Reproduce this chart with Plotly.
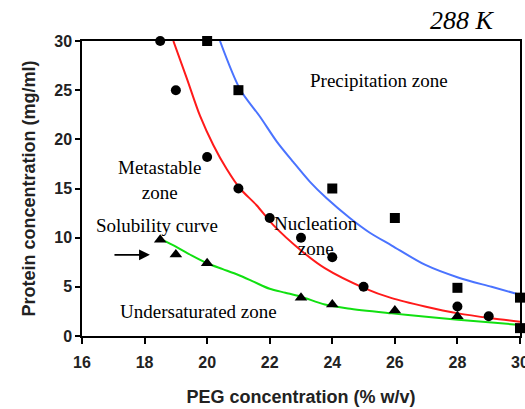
import plotly.graph_objects as go

# Data points
circle_x = [18.5, 19, 20, 21, 22, 23, 24, 25, 28, 29]
circle_y = [30, 25, 18.2, 15, 12, 10, 8, 5, 3.0, 2.0]

square_x = [20, 21, 24, 26, 28, 30, 30]
square_y = [30, 25, 15, 12, 4.9, 3.9, 0.8]

triangle_x = [18.5, 19, 20, 23, 24, 26, 28]
triangle_y = [9.8, 8.3, 7.4, 3.9, 3.2, 2.6, 2.0]

# Fitted curves
red_x = [18.92, 19.35, 19.77, 20.2, 20.62, 21.05, 21.58, 22.11, 23.0, 23.76, 25.04, 25.9, 26.96, 28.02, 29.09, 30]
red_y = [30, 26.2, 22.4, 19.4, 17.0, 15.0, 13.3, 11.3, 8.7, 6.9, 4.85, 3.85, 3.0, 2.3, 1.8, 1.45]

blue_x = [20.41, 21.05, 21.69, 22.22, 22.75, 23.28, 23.82, 24.56, 25.2, 25.9, 26.96, 28.02, 29.09, 30]
blue_y = [30, 25.1, 22.3, 19.8, 17.7, 15.7, 14.0, 12.0, 10.5, 9.2, 7.25, 5.95, 5.0, 4.2]

green_x = [18.55, 19.0, 19.5, 20.0, 20.5, 21, 21.5, 22, 22.5, 23, 23.76, 24.5, 25.9, 27, 28.02, 29, 30]
green_y = [9.8, 9.1, 8.2, 7.4, 6.8, 6.2, 5.5, 4.8, 4.4, 4.0, 3.2, 2.8, 2.3, 1.95, 1.65, 1.4, 1.12]

x_ticks = [16, 18, 20, 22, 24, 26, 28, 30]
y_ticks = [0, 5, 10, 15, 20, 25, 30]

fig = go.Figure()

fig.add_trace(go.Scatter(x=red_x, y=red_y, mode="lines", line=dict(color="#FF1A1A", width=2, shape="spline", smoothing=0.8), hoverinfo="skip"))
fig.add_trace(go.Scatter(x=blue_x, y=blue_y, mode="lines", line=dict(color="#4A73FF", width=2, shape="spline", smoothing=0.8), hoverinfo="skip"))
fig.add_trace(go.Scatter(x=green_x, y=green_y, mode="lines", line=dict(color="#11E011", width=2, shape="spline", smoothing=0.8), hoverinfo="skip"))

fig.add_trace(go.Scatter(x=circle_x, y=circle_y, mode="markers", cliponaxis=False,
                         marker=dict(symbol="circle", size=10, color="black")))
fig.add_trace(go.Scatter(x=square_x, y=square_y, mode="markers", cliponaxis=False,
                         marker=dict(symbol="square", size=10, color="black")))
fig.add_trace(go.Scatter(x=triangle_x, y=triangle_y, mode="markers", cliponaxis=False,
                         marker=dict(symbol="triangle-up", size=11, color="black")))

serif = dict(family="Liberation Serif", size=19, color="black")
annots = [
    dict(x=25.5, y=26.0, text="Precipitation zone"),
    dict(x=18.49, y=15.85, text="Metastable<br>zone"),
    dict(x=18.39, y=11.2, text="Solubility curve"),
    dict(x=23.49, y=10.2, text="Nucleation<br>zone"),
    dict(x=19.73, y=2.45, text="Undersaturated zone"),
]
for a in annots:
    fig.add_annotation(x=a["x"], y=a["y"], text=a["text"], showarrow=False,
                       font=serif, xref="x", yref="y")

fig.add_annotation(x=18.17, y=8.26, ax=16.99, ay=8.26, xref="x", yref="y", axref="x", ayref="y",
                   text="", showarrow=True, arrowhead=2, arrowsize=1.2, arrowwidth=1.8, arrowcolor="black")

# paper coords are relative to the plot area (x: 82..520, y: 336..41)
fig.add_annotation(x=(497 - 82) / 438, y=(336 - 21) / 295, xref="paper", yref="paper",
                   xanchor="right", yanchor="middle",
                   text="<i>288 K</i>", showarrow=False,
                   font=dict(family="Liberation Serif", size=26, color="black"))

tick_font = dict(family="Liberation Sans", size=16, color="#222222", weight="bold")
title_font = dict(family="Liberation Sans", size=18, color="#222222", weight="bold")

fig.update_layout(
    width=525, height=409,
    margin=dict(l=82, r=5, t=41, b=73, autoexpand=False),
    paper_bgcolor="white", plot_bgcolor="white",
    showlegend=False,
    xaxis=dict(range=[16, 30], tickvals=x_ticks, ticktext=[str(v) for v in x_ticks],
               showgrid=False, zeroline=False, showline=True, linecolor="black", linewidth=1.5,
               mirror=True, ticks="outside", ticklen=6, tickwidth=1.5, tickcolor="black",
               tickfont=tick_font, ticklabelstandoff=5, ticklabeloverflow="allow", automargin=False,
               title=dict(text="PEG concentration (% w/v)", font=title_font, standoff=20)),
    yaxis=dict(range=[0, 30], tickvals=y_ticks, ticktext=[str(v) for v in y_ticks],
               showgrid=False, zeroline=False, showline=True, linecolor="black", linewidth=1.5,
               mirror=True, ticks="outside", ticklen=5, tickwidth=1.5, tickcolor="black",
               tickfont=tick_font, automargin=False,
               title=dict(text="Protein concentration (mg/ml)", font=title_font, standoff=14)),
)

fig.write_html("out.html", config={"displayModeBar": False},
               post_script="document.body.style.margin='0';")
